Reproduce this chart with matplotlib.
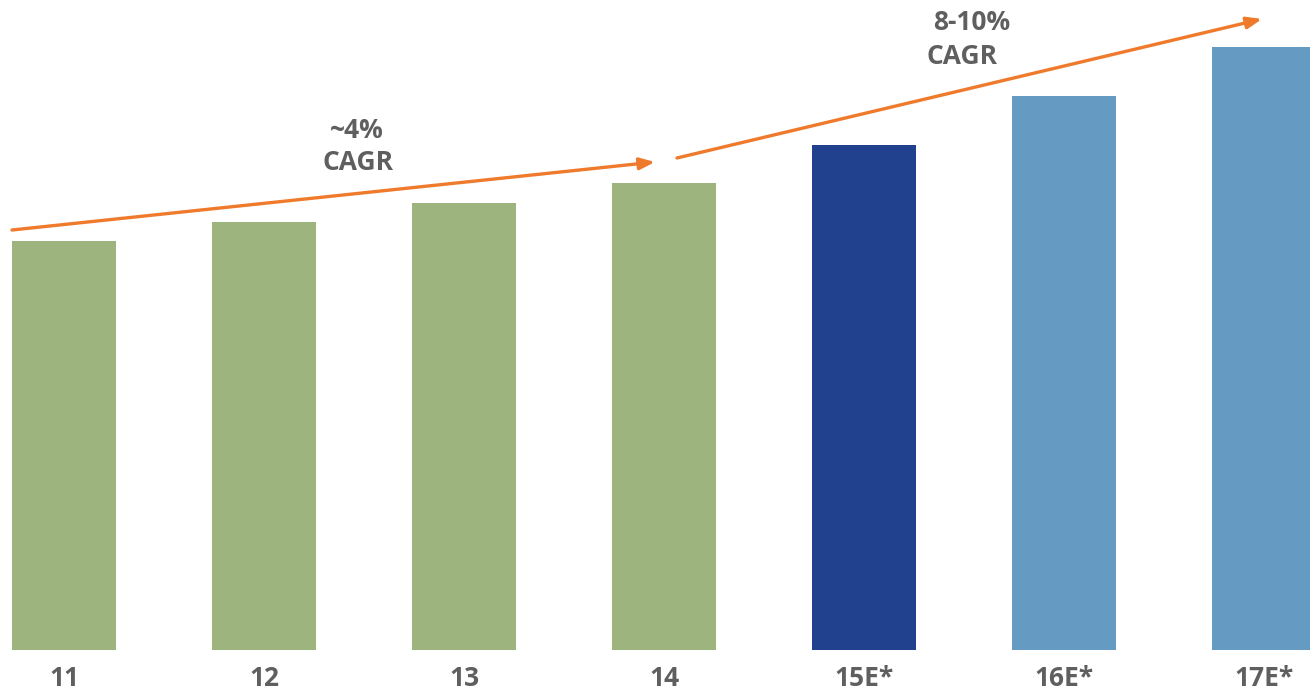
import matplotlib.pyplot as plt

years = ["11", "12", "13", "14", "15E*", "16E*", "17E*"]
values = [8.18, 8.56, 8.94, 9.34, 10.1, 11.08, 12.06]
colors = ["#9db47f", "#9db47f", "#9db47f", "#9db47f", "#21408e", "#659ac3", "#659ac3"]

grey = "#5f5f5f"
orange = "#ef7a2c"

plt.rcParams["font.family"] = ["Open Sans", "DejaVu Sans"]

fig = plt.figure(figsize=(13.1, 6.93), dpi=100)
ax = fig.add_axes([0, 43 / 693, 1, 650 / 693])

x = range(len(years))
ax.bar(x, values, width=0.52, color=colors)
ax.set_xlim(-0.32, 6.23)
ax.set_ylim(0, 13)

ax.set_xticks(list(x))
ax.set_xticklabels(years, fontsize=19, fontweight="bold", color=grey)
ax.tick_params(axis="x", length=0, pad=11)
ax.set_yticks([])
for s in ax.spines.values():
    s.set_visible(False)

# growth arrows
arrow = dict(arrowstyle="-|>,head_length=0.9,head_width=0.35", color=orange, lw=2.4,
             shrinkA=0, shrinkB=0)
ax.annotate("", xy=(2.955, 9.76), xytext=(-0.26, 8.4), arrowprops=arrow)
ax.annotate("", xy=(5.99, 12.62), xytext=(3.065, 9.84), arrowprops=arrow)

txt = dict(fontsize=19, fontweight="bold", color=grey, ha="center", va="center")
ax.text(1.465, 10.38, "~4%", **txt)
ax.text(1.47, 9.74, "CAGR", **txt)
ax.text(4.54, 12.56, "8-10%", **txt)
ax.text(4.49, 11.86, "CAGR", **txt)

fig.savefig("out.png", dpi=100)
